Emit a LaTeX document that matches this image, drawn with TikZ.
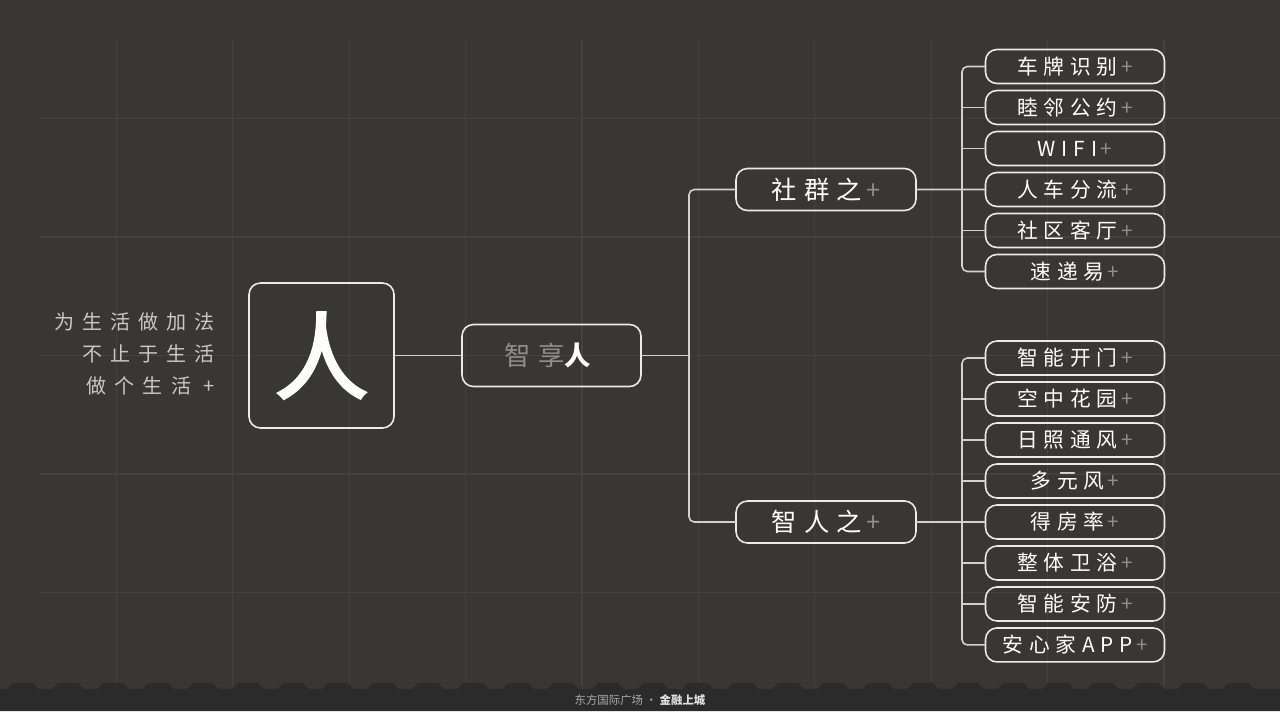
\documentclass[tikz,border=0pt]{standalone}
\usepackage{fontspec}
\setmainfont{Noto Sans CJK SC}
\newfontfamily\itemfont{Noto Sans CJK SC}[LetterSpace=28]
\newfontfamily\mottofont{Noto Sans CJK SC}[LetterSpace=40]
\newfontfamily\bigfont{Noto Sans CJK SC}[FakeBold=2.5]
\usetikzlibrary{positioning}

\definecolor{bgdark}{HTML}{383735}
\definecolor{bgband}{HTML}{2C2B2B}
\definecolor{gridline}{HTML}{444241}
\definecolor{plusgray}{HTML}{8E8E8E}
\definecolor{softgray}{HTML}{C8C8C8}
\newcommand{\plus}{\,\textcolor{plusgray}{+}}

\begin{document}
\begin{tikzpicture}[x=0.02cm, y=-0.02cm,
  card/.style={draw=white!92!black, line width=0.9pt, rounded corners=6.5pt, inner sep=0pt, outer sep=0pt, align=center, text=white},
  leaf/.style={card, minimum width=3.58cm, minimum height=0.68cm, font=\itemfont\fontsize{11.8}{12}\selectfont},
  branch/.style={card, minimum width=3.6cm, minimum height=0.84cm, font=\itemfont\fontsize{14.4}{15}\selectfont},
  link/.style={draw=white!82!black, line width=0.9pt}
]
% background, grid and bottom band
\fill[bgdark] (0,0) rectangle (1280,711);
\useasboundingbox (0,0) rectangle (1280,711);
\foreach \gx in {1,...,10}
  \draw[gridline, line width=0.6pt] ({\gx*116.4},40) -- ({\gx*116.4},686);
\foreach \gy in {1,...,5}
  \draw[gridline, line width=0.6pt] (40,{\gy*118.5}) -- (1280,{\gy*118.5});
\fill[bgband] (0,711) -- (0,689)
  \foreach \i in {0,...,27} { -- ({\i*45+7},689) -- ({\i*45+13},683) -- ({\i*45+33},683) -- ({\i*45+39},689) -- ({\i*45+45},689)}
  -- (1280,689) -- (1280,711) -- cycle;

% left side
\node[anchor=east, align=right, text=softgray, inner sep=0pt, font=\mottofont\fontsize{11.4}{18.2}\selectfont] (motto) at (215,354) {为生活做加法\\不止于生活\\做个生活 +};
\node[card, minimum size=2.9cm] (ren) at (321.5,355.5) {\bigfont\fontsize{54}{54}\selectfont 人};
\node[card, minimum width=3.58cm, minimum height=1.24cm, font=\itemfont\fontsize{15}{16}\selectfont] (zx) at (551.5,355.5) {\textcolor{plusgray}{智享}\textbf{人}};

% branches
\node[branch] (sq) at (826,189.5) {社群之\plus};
\node[branch] (zr) at (826,522) {智人之\plus};

% first group
\node[leaf] (cp) at (1075,66.5) {车牌识别\plus};
\node[leaf, below=0.14cm of cp] (ml) {睦邻公约\plus};
\node[leaf, below=0.14cm of ml] (wf) {WIFI\plus};
\node[leaf, below=0.14cm of wf] (rc) {人车分流\plus};
\node[leaf, below=0.14cm of rc] (kt) {社区客厅\plus};
\node[leaf, below=0.14cm of kt] (kd) {速递易\plus};

% second group
\node[leaf] (km) at (1075,358) {智能开门\plus};
\node[leaf, below=0.14cm of km] (hy) {空中花园\plus};
\node[leaf, below=0.14cm of hy] (rz) {日照通风\plus};
\node[leaf, below=0.14cm of rz] (dy) {多元风\plus};
\node[leaf, below=0.14cm of dy] (df) {得房率\plus};
\node[leaf, below=0.14cm of df] (wy) {整体卫浴\plus};
\node[leaf, below=0.14cm of wy] (af) {智能安防\plus};
\node[leaf, below=0.14cm of af] (app) {安心家APP\plus};

\node[font=\fontsize{6.5}{7}\selectfont, text=softgray!85!black] (foot) at (640,700) {东方国际广场\ ·\ \textcolor{white!88!black}{\bfseries 金融上城}};

% connectors
\coordinate (hub) at (689,355.5);
\coordinate (b1) at (962,189.5);
\coordinate (b2) at (962,522);
\draw[link] (ren) -- (zx);
\draw[link] (zx) -- (hub);
\draw[link, rounded corners=3pt] (sq.west) -| (hub) |- (zr.west);
\draw[link] (sq) -- (rc);
\draw[link, rounded corners=3pt] (cp.west) -| (b1) |- (kd.west);
\draw[link] (ml.west) -- (ml.west -| b1);
\draw[link] (wf.west) -- (wf.west -| b1);
\draw[link] (kt.west) -- (kt.west -| b1);
\draw[link] (zr) -- (df);
\draw[link, rounded corners=3pt] (km.west) -| (b2) |- (app.west);
\draw[link] (hy.west) -- (hy.west -| b2);
\draw[link] (rz.west) -- (rz.west -| b2);
\draw[link] (dy.west) -- (dy.west -| b2);
\draw[link] (wy.west) -- (wy.west -| b2);
\draw[link] (af.west) -- (af.west -| b2);
\end{tikzpicture}
\end{document}
